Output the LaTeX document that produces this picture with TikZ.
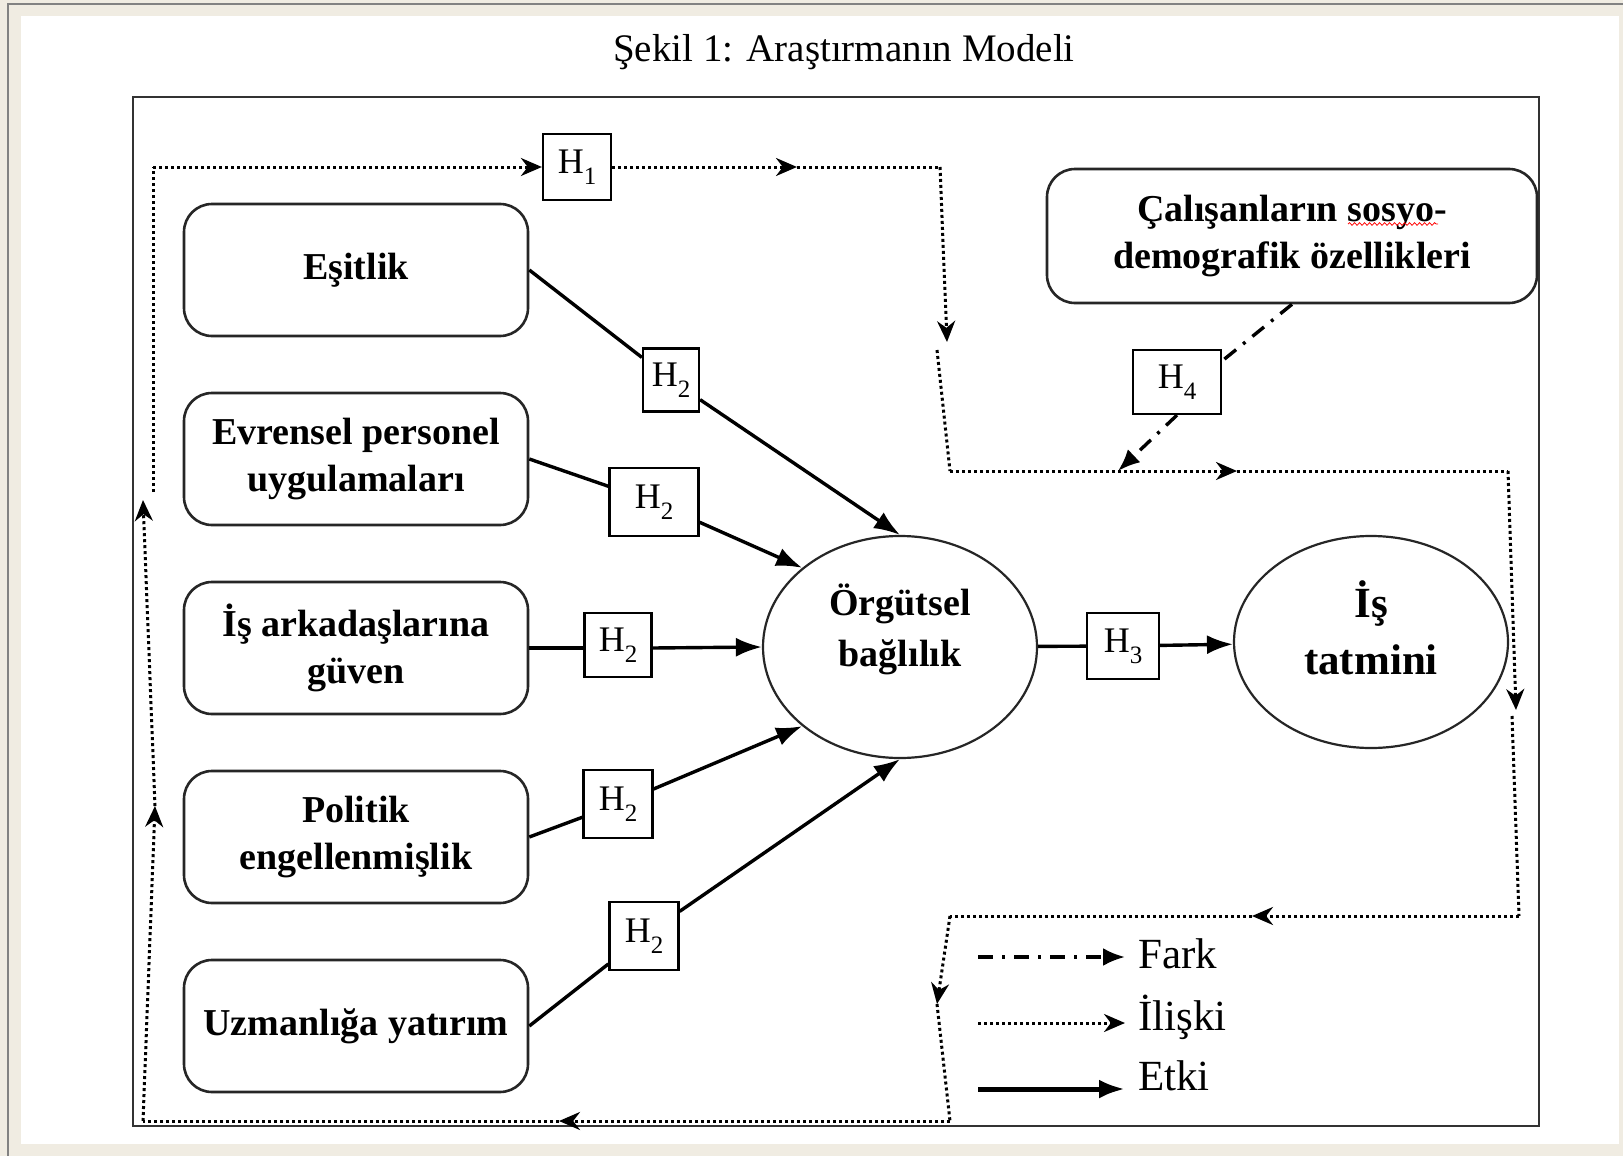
\documentclass[tikz,border=0pt]{standalone}
\usepackage{fontspec}
\setmainfont{Liberation Serif}
\usetikzlibrary{positioning,shapes.geometric,arrows.meta,decorations.pathmorphing}

\definecolor{zemin}{RGB}{240,236,226}
\definecolor{kenar}{RGB}{130,130,130}

\newcommand{\hyp}[1]{H\raisebox{-0.3em}{\fontsize{25}{25}\selectfont #1}}

\begin{document}
\begin{tikzpicture}[
  x=1pt, y=-1pt,
  kutu/.style={rectangle, draw=black!85, line width=2.6pt, rounded corners=28pt, align=center, font=\bfseries\fontsize{38}{47}\selectfont, minimum width=344pt, minimum height=132pt, inner sep=0pt},
  elips/.style={ellipse, draw=black!85, line width=2.2pt, minimum width=274pt, inner sep=0pt},
  elipsyazi/.style={align=center, font=\bfseries\fontsize{38}{51}\selectfont},
  hkutu/.style={rectangle, draw, line width=2.2pt, fill=white, font=\fontsize{36}{36}\selectfont, minimum height=66pt, inner sep=0pt},
  cizgi/.style={line width=3.4pt},
  etki/.style={line width=3.4pt, -{Latex[length=26pt,width=19pt]}},
  fark/.style={line width=3.4pt, dash pattern=on 15pt off 9pt on 3pt off 9pt},
  iliski/.style={line width=3pt, dash pattern=on 3pt off 3pt},
  ok/.style={-{Stealth[length=21pt,width=18pt]}},
  lejant/.style={anchor=base west, inner sep=0pt, font=\fontsize{43}{43}\selectfont}
]
  \useasboundingbox (0,0) rectangle (1623,1156);
  % sayfa zemini
  \fill[zemin] (0,0) rectangle (1623,1156);
  \fill[white] (21,16) rectangle (1619,1144);
  \draw[kenar, line width=2.5pt] (8,1156) -- (8,4) -- (1623,4);

  \node[font=\fontsize{39}{39}\selectfont] (baslik) at (844,52) {Şekil 1: Araştırmanın Modeli};
  \draw[line width=2.8pt, draw=black!80] (133,97) rectangle (1539,1126);

  % Nodes
  \node[kutu] (esitlik) at (356,270) {Eşitlik};
  \node[kutu] (evrensel) at (356,459) {Evrensel personel\\uygulamaları};
  \node[kutu] (guven) at (356,648) {İş arkadaşlarına\\güven};
  \node[kutu] (politik) at (356,837) {Politik\\engellenmişlik};
  \node[kutu] (uzman) at (356,1026) {Uzmanlığa yatırım};
  \node[kutu, minimum width=490pt, minimum height=134pt] (sosyo) at (1292,236) {Çalışanların sosyo-\\demografik özellikleri};
  \node[elips, minimum height=222pt, label={[elipsyazi, yshift=18pt]center:Örgütsel\\bağlılık}] (orgutsel) at (900,647) {};
  \node[elips, minimum height=212pt, label={[elipsyazi, font=\bfseries\fontsize{43}{57}\selectfont, yshift=14pt]center:İş\\tatmini}] (tatmin) at (1371,642) {};

  \node[hkutu, minimum width=68pt] (h1) at (577,167) {\hyp{1}};
  \node[hkutu, minimum width=56pt, minimum height=63pt] (h2a) at (671,380) {\hyp{2}};
  \node[hkutu, minimum width=89pt, minimum height=68pt] (h2b) at (654,502) {\hyp{2}};
  \node[hkutu, minimum width=67pt, minimum height=64pt] (h2c) at (618,645) {\hyp{2}};
  \node[hkutu, minimum width=69pt, minimum height=68pt] (h2d) at (618,804) {\hyp{2}};
  \node[hkutu, minimum width=69pt, minimum height=68pt] (h2e) at (644,936) {\hyp{2}};
  \node[hkutu, minimum width=72pt] (h3) at (1123,646) {\hyp{3}};
  \node[hkutu, minimum width=88pt, minimum height=64pt] (h4) at (1177,382) {\hyp{4}};

  % imla cizgisi
  \draw[red, line width=0.8pt, decorate, decoration={snake, amplitude=1.3pt, segment length=5pt}] (1348,224) -- (1438,224);

  % Etki oklari
  \draw[cizgi] (esitlik.east) -- (h2a);
  \draw[etki] (h2a) -- (orgutsel.north);
  \draw[cizgi] (evrensel.east) -- (h2b);
  \draw[etki] (h2b) -- (orgutsel.141);
  \draw[cizgi] (guven.east) -- (h2c.west |- guven.east);
  \draw[etki] (h2c.east |- guven.east) -- (orgutsel.west);
  \draw[cizgi] (politik.east) -- (h2d);
  \draw[etki] (h2d) -- (orgutsel.219);
  \draw[cizgi] (uzman.east) -- (h2e);
  \draw[etki] (h2e) -- (orgutsel.south);
  \draw[cizgi] (orgutsel) -- (h3);
  \draw[etki] (h3) -- (tatmin);

  % Iliski dongusu
  \coordinate (ustsol) at (153,167);
  \coordinate (ustok) at (797,167);
  \coordinate (ustsag) at (940,167);
  \coordinate (inis1) at (947,342);
  \coordinate (inis2) at (937,350);
  \coordinate (ortasol) at (950,471);
  \coordinate (ortaok) at (1237,471);
  \coordinate (ortasag) at (1508,471);
  \coordinate (sagok) at (1516,710);
  \coordinate (sagdevam) at (1512,716);
  \coordinate (altsag) at (1519,916);
  \coordinate (altok) at (1252,916);
  \coordinate (altsol) at (950,916);
  \coordinate (inis3) at (937,1004);
  \coordinate (tabansag) at (950,1121);
  \coordinate (tabanok) at (559,1121);
  \coordinate (tabansol) at (143,1121);
  \coordinate (solok1) at (155,806);
  \coordinate (solok2) at (143,500);
  \coordinate (soldevam) at (153,492);
  \coordinate (farkuc) at (1118,471);

  \draw[iliski,ok] (ustsol) -- (h1);
  \draw[iliski,ok] (h1) -- (ustok);
  \draw[iliski] (ustok) -- (ustsag);
  \draw[iliski,ok] (ustsag) -- (inis1);
  \draw[iliski] (inis2) -- (ortasol);
  \draw[iliski,ok] (ortasol) -- (ortaok);
  \draw[iliski] (ortaok) -- (ortasag);
  \draw[iliski,ok] (ortasag) -- (sagok);
  \draw[iliski] (sagdevam) -- (altsag);
  \draw[iliski,ok] (altsag) -- (altok);
  \draw[iliski] (altok) -- (altsol);
  \draw[iliski,ok] (altsol) -- (inis3);
  \draw[iliski] (inis3) -- (tabansag);
  \draw[iliski,ok] (tabansag) -- (tabanok);
  \draw[iliski] (tabanok) -- (tabansol);
  \draw[iliski,ok] (tabansol) -- (solok1);
  \draw[iliski,ok] (solok1) -- (solok2);
  \draw[iliski] (soldevam) -- (ustsol);

  % Fark
  \draw[fark] (sosyo.south) -- (h4.25);
  \draw[fark, -{Latex[length=22pt,width=18pt]}] (h4.south) -- (farkuc);

  % Lejant
  \coordinate (lf1) at (978,957);
  \coordinate (lf2) at (1125,957);
  \coordinate (li1) at (978,1023);
  \coordinate (li2) at (1125,1023);
  \coordinate (le1) at (978,1089);
  \coordinate (le2) at (1125,1089);
  \draw[fark, -{Latex[length=22pt,width=18pt]}] (lf1) -- (lf2);
  \draw[iliski,ok] (li1) -- (li2);
  \draw[etki, line width=5pt] (le1) -- (le2);
  \node[lejant] (farkyazi) at (1138,968) {Fark};
  \node[lejant] (iliskiyazi) at (1138,1030) {İlişki};
  \node[lejant] (etkiyazi) at (1138,1090) {Etki};
\end{tikzpicture}
\end{document}
